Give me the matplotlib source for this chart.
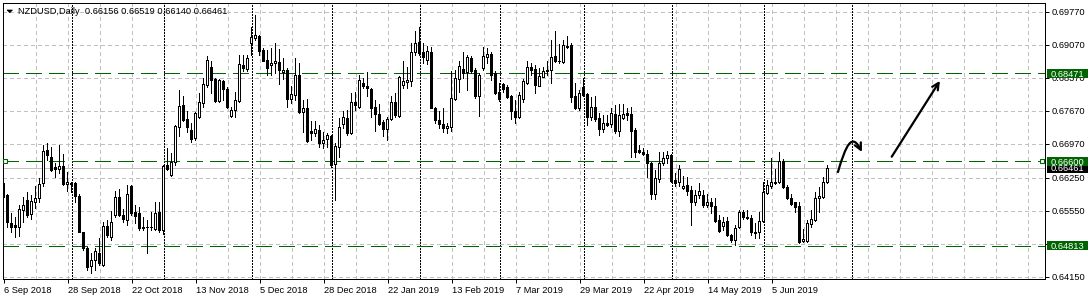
import matplotlib
matplotlib.use('Agg')
import matplotlib.pyplot as plt
import matplotlib.transforms as mtransforms
from matplotlib.patches import Rectangle, Polygon, FancyArrowPatch
from matplotlib.path import Path
import numpy as np
import pandas as pd

# NZDUSD daily candles
opens = [
    0.6615, 0.6589, 0.6530, 0.6525, 0.6521, 0.6556, 0.6579, 0.6548, 0.6575, 0.6582,
    0.6614, 0.6684, 0.6670, 0.6648, 0.6645, 0.6650, 0.6612, 0.6615, 0.6615, 0.6587,
    0.6510, 0.6476, 0.6438, 0.6451, 0.6466, 0.6440, 0.6524, 0.6500, 0.6546, 0.6584,
    0.6546, 0.6536, 0.6608, 0.6553, 0.6550, 0.6521, 0.6521, 0.6520, 0.6516, 0.6553,
    0.6515, 0.6653, 0.6631, 0.6658, 0.6734, 0.6780, 0.6750, 0.6727, 0.6709, 0.6755,
    0.6784, 0.6822, 0.6861, 0.6835, 0.6789, 0.6830, 0.6813, 0.6757, 0.6769, 0.6789,
    0.6865, 0.6856, 0.6912, 0.6922, 0.6927, 0.6897, 0.6876, 0.6864, 0.6868, 0.6870,
    0.6849, 0.6854, 0.6793, 0.6801, 0.6844, 0.6764, 0.6773, 0.6725, 0.6721, 0.6727,
    0.6700, 0.6707, 0.6713, 0.6654, 0.6690, 0.6739, 0.6752, 0.6720, 0.6786, 0.6776,
    0.6826, 0.6820, 0.6814, 0.6775, 0.6761, 0.6743, 0.6728, 0.6751, 0.6787, 0.6757,
    0.6822, 0.6828, 0.6830, 0.6892, 0.6914, 0.6893, 0.6876, 0.6893, 0.6773, 0.6748,
    0.6740, 0.6730, 0.6733, 0.6793, 0.6835, 0.6856, 0.6849, 0.6880, 0.6854, 0.6799,
    0.6859, 0.6881, 0.6888, 0.6847, 0.6808, 0.6825, 0.6817, 0.6798, 0.6767, 0.6754,
    0.6793, 0.6827, 0.6860, 0.6856, 0.6821, 0.6840, 0.6851, 0.6853, 0.6883, 0.6874,
    0.6871, 0.6902, 0.6906, 0.6798, 0.6773, 0.6818, 0.6803, 0.6755, 0.6776, 0.6752,
    0.6728, 0.6741, 0.6740, 0.6761, 0.6725, 0.6753, 0.6762, 0.6761, 0.6727, 0.6684,
    0.6679, 0.6676, 0.6656, 0.6590, 0.6623, 0.6656, 0.6667, 0.6674, 0.6621, 0.6616,
    0.6603, 0.6610, 0.6599, 0.6573, 0.6589, 0.6589, 0.6567, 0.6575, 0.6565, 0.6536,
    0.6523, 0.6534, 0.6504, 0.6493, 0.6521, 0.6552, 0.6543, 0.6541, 0.6509, 0.6510,
    0.6534, 0.6594, 0.6607, 0.6615, 0.6616, 0.6662, 0.6605, 0.6582, 0.6573, 0.6565,
    0.6492, 0.6492, 0.6527, 0.6536, 0.6582, 0.6584, 0.66156]
highs = [
    0.6617, 0.6592, 0.6550, 0.6543, 0.6567, 0.6585, 0.6596, 0.6589, 0.6607, 0.6624,
    0.6695, 0.6699, 0.6691, 0.6656, 0.6695, 0.6676, 0.6638, 0.6617, 0.6617, 0.6592,
    0.6511, 0.6479, 0.6465, 0.6476, 0.6497, 0.6532, 0.6536, 0.6555, 0.6598, 0.6601,
    0.6560, 0.6610, 0.6610, 0.6567, 0.6564, 0.6543, 0.6535, 0.6553, 0.6575, 0.6573,
    0.6653, 0.6688, 0.6677, 0.6737, 0.6812, 0.6798, 0.6766, 0.6741, 0.6765, 0.6805,
    0.6837, 0.6883, 0.6872, 0.6837, 0.6834, 0.6833, 0.6817, 0.6776, 0.6808, 0.6886,
    0.6886, 0.6886, 0.6946, 0.6971, 0.6929, 0.6900, 0.6897, 0.6900, 0.6912, 0.6898,
    0.6879, 0.6858, 0.6819, 0.6879, 0.6868, 0.6791, 0.6792, 0.6745, 0.6745, 0.6738,
    0.6723, 0.6721, 0.6716, 0.6699, 0.6752, 0.6766, 0.6769, 0.6805, 0.6808, 0.6844,
    0.6837, 0.6849, 0.6815, 0.6791, 0.6782, 0.6748, 0.6755, 0.6798, 0.6805, 0.6842,
    0.6872, 0.6861, 0.6912, 0.6936, 0.6946, 0.6912, 0.6904, 0.6902, 0.6776, 0.6766,
    0.6773, 0.6741, 0.6851, 0.6853, 0.6873, 0.6893, 0.6886, 0.6884, 0.6858, 0.6847,
    0.6902, 0.6900, 0.6893, 0.6851, 0.6826, 0.6827, 0.6822, 0.6801, 0.6791, 0.6808,
    0.6834, 0.6872, 0.6868, 0.6865, 0.6858, 0.6861, 0.6872, 0.6917, 0.6937, 0.6909,
    0.6918, 0.6925, 0.6912, 0.6826, 0.6812, 0.6837, 0.6805, 0.6796, 0.6798, 0.6762,
    0.6759, 0.6759, 0.6773, 0.6780, 0.6782, 0.6782, 0.6773, 0.6776, 0.6730, 0.6695,
    0.6688, 0.6684, 0.6658, 0.6642, 0.6681, 0.6681, 0.6683, 0.6676, 0.6635, 0.6653,
    0.6629, 0.6628, 0.6607, 0.6599, 0.6615, 0.6599, 0.6592, 0.6582, 0.6582, 0.6546,
    0.6543, 0.6543, 0.6507, 0.6525, 0.6557, 0.6558, 0.6558, 0.6546, 0.6530, 0.6553,
    0.6617, 0.6621, 0.6667, 0.6643, 0.6681, 0.6665, 0.6610, 0.6592, 0.6575, 0.6575,
    0.6516, 0.6536, 0.6556, 0.6596, 0.6605, 0.6626, 0.66519]
lows = [
    0.6571, 0.6521, 0.6511, 0.6500, 0.6502, 0.6532, 0.6543, 0.6539, 0.6561, 0.6575,
    0.6607, 0.6663, 0.6640, 0.6628, 0.6635, 0.6610, 0.6598, 0.6596, 0.6575, 0.6510,
    0.6473, 0.6430, 0.6424, 0.6430, 0.6440, 0.6438, 0.6499, 0.6493, 0.6543, 0.6544,
    0.6532, 0.6525, 0.6546, 0.6530, 0.6515, 0.6515, 0.6465, 0.6515, 0.6515, 0.6511,
    0.6507, 0.6641, 0.6629, 0.6653, 0.6713, 0.6745, 0.6723, 0.6702, 0.6706, 0.6752,
    0.6776, 0.6818, 0.6805, 0.6787, 0.6787, 0.6791, 0.6773, 0.6754, 0.6755, 0.6787,
    0.6851, 0.6851, 0.6886, 0.6918, 0.6886, 0.6872, 0.6844, 0.6844, 0.6847, 0.6825,
    0.6834, 0.6776, 0.6784, 0.6791, 0.6762, 0.6723, 0.6702, 0.6706, 0.6713, 0.6691,
    0.6688, 0.6691, 0.6649, 0.6578, 0.6670, 0.6730, 0.6716, 0.6718, 0.6769, 0.6773,
    0.6815, 0.6798, 0.6755, 0.6725, 0.6738, 0.6713, 0.6706, 0.6748, 0.6755, 0.6755,
    0.6815, 0.6815, 0.6819, 0.6886, 0.6886, 0.6868, 0.6866, 0.6773, 0.6742, 0.6730,
    0.6723, 0.6720, 0.6725, 0.6791, 0.6808, 0.6837, 0.6812, 0.6847, 0.6794, 0.6757,
    0.6854, 0.6868, 0.6833, 0.6803, 0.6788, 0.6808, 0.6794, 0.6750, 0.6742, 0.6752,
    0.6787, 0.6825, 0.6844, 0.6806, 0.6819, 0.6839, 0.6844, 0.6826, 0.6870, 0.6868,
    0.6868, 0.6900, 0.6787, 0.6771, 0.6769, 0.6798, 0.6738, 0.6747, 0.6745, 0.6716,
    0.6723, 0.6735, 0.6734, 0.6721, 0.6713, 0.6750, 0.6748, 0.6670, 0.6670, 0.6677,
    0.6674, 0.6628, 0.6580, 0.6580, 0.6617, 0.6653, 0.6657, 0.6617, 0.6607, 0.6607,
    0.6601, 0.6589, 0.6525, 0.6568, 0.6582, 0.6564, 0.6564, 0.6550, 0.6532, 0.6511,
    0.6514, 0.6502, 0.6490, 0.6483, 0.6518, 0.6539, 0.6539, 0.6504, 0.6497, 0.6497,
    0.6532, 0.6592, 0.6603, 0.6612, 0.6614, 0.6603, 0.6580, 0.6568, 0.6553, 0.6488,
    0.6490, 0.6490, 0.6522, 0.6534, 0.6553, 0.6582, 0.66140]
closes = [
    0.6585, 0.6532, 0.6521, 0.6520, 0.6559, 0.6567, 0.6547, 0.6576, 0.6583, 0.6612,
    0.6683, 0.6674, 0.6642, 0.6643, 0.6650, 0.6612, 0.6616, 0.6613, 0.6587, 0.6511,
    0.6476, 0.6437, 0.6452, 0.6471, 0.6444, 0.6524, 0.6504, 0.6532, 0.6584, 0.6546,
    0.6539, 0.6592, 0.6550, 0.6544, 0.6518, 0.6519, 0.6520, 0.6522, 0.6551, 0.6515,
    0.6651, 0.6645, 0.6658, 0.6735, 0.6778, 0.6748, 0.6733, 0.6708, 0.6762, 0.6785,
    0.6824, 0.6876, 0.6833, 0.6789, 0.6832, 0.6813, 0.6776, 0.6769, 0.6791, 0.6867,
    0.6858, 0.6879, 0.6924, 0.6928, 0.6895, 0.6874, 0.6858, 0.6868, 0.6873, 0.6854,
    0.6854, 0.6792, 0.6803, 0.6844, 0.6764, 0.6774, 0.6703, 0.6721, 0.6728, 0.6699,
    0.6706, 0.6716, 0.6653, 0.6693, 0.6733, 0.6754, 0.6720, 0.6786, 0.6779, 0.6833,
    0.6819, 0.6815, 0.6774, 0.6761, 0.6740, 0.6729, 0.6750, 0.6786, 0.6759, 0.6839,
    0.6830, 0.6833, 0.6893, 0.6912, 0.6890, 0.6881, 0.6895, 0.6774, 0.6747, 0.6740,
    0.6730, 0.6735, 0.6794, 0.6837, 0.6863, 0.6847, 0.6881, 0.6851, 0.6798, 0.6844,
    0.6883, 0.6888, 0.6844, 0.6806, 0.6793, 0.6813, 0.6796, 0.6766, 0.6754, 0.6801,
    0.6830, 0.6860, 0.6854, 0.6822, 0.6842, 0.6852, 0.6854, 0.6881, 0.6873, 0.6872,
    0.6906, 0.6905, 0.6796, 0.6773, 0.6806, 0.6801, 0.6755, 0.6776, 0.6750, 0.6729,
    0.6742, 0.6738, 0.6762, 0.6725, 0.6759, 0.6760, 0.6759, 0.6725, 0.6681, 0.6681,
    0.6676, 0.6656, 0.6590, 0.6624, 0.6656, 0.6667, 0.6674, 0.6619, 0.6615, 0.6643,
    0.6608, 0.6598, 0.6573, 0.6589, 0.6597, 0.6567, 0.6575, 0.6565, 0.6534, 0.6513,
    0.6532, 0.6504, 0.6493, 0.6518, 0.6553, 0.6543, 0.6541, 0.6511, 0.6511, 0.6534,
    0.6596, 0.6610, 0.6617, 0.6617, 0.6662, 0.6605, 0.6582, 0.6570, 0.6564, 0.6490,
    0.6495, 0.6529, 0.6538, 0.6582, 0.6587, 0.6616, 0.66461]

first_day = '2018-09-06'
holidays = ['2018-12-25', '2019-01-01']
price_ticks = [0.69770, 0.69070, 0.68370, 0.67670, 0.66970, 0.66250, 0.65550, 0.64850, 0.64150]
level_lines = [0.68471, 0.66600, 0.64813]
title = 'NZDUSD,Daily  0.66156 0.66519 0.66140 0.66461'

n = len(closes)
assert len(opens) == len(highs) == len(lows) == n
days = pd.bdate_range(first_day, periods=n + 10)
days = days[~days.isin(pd.to_datetime(holidays))][:n]

plt.rcParams['font.family'] = ['Liberation Sans', 'DejaVu Sans']
FS = 6.7
W, H = 1091, 300
fig = plt.figure(figsize=(W / 100, H / 100), dpi=100)
ax = fig.add_axes([2.5 / W, 1 - 279.3 / H, 1042.8 / W, 276.6 / H])
ax.set_xlim(-0.125, 260.6)
ax.set_ylim(0.64101, 0.69966)
px = 0.72  # one pixel in points

# grid
for p in price_ticks:
    ax.axhline(p, color='#c0c0c0', lw=px, ls=(0, (3, 3)), zorder=0, antialiased=False)
for k in range(1, 33):
    ax.axvline(8 * k + 0.15, color='#c0c0c0', lw=px, ls=(0, (3, 3)), zorder=0,
               antialiased=False)

# month separators
seps = [i for i in range(1, n) if days[i].month != days[i - 1].month]
seps.append(n + 5)  # next month, drawn in the empty future area
for s in seps:
    ax.axvline(s + 0.15, color='black', lw=px, ls=(0, (2, 2)), zorder=1, antialiased=False)

# candles
o, h, l, c = map(np.array, (opens, highs, lows, closes))
idx = np.arange(n)
ax.vlines(idx, l, h, color='black', lw=px, zorder=3, antialiased=False)
body_lo = np.minimum(o, c)
body_h = np.maximum(np.abs(c - o), 0.00002)
faces = np.where(c >= o, 'white', 'black')
ax.bar(idx, body_h, bottom=body_lo, width=0.5, color=faces, edgecolor='black',
       linewidth=px, zorder=4, antialiased=False)

# levels and bid line
ax.axhline(closes[-1], color='#c0c0c0', lw=px, zorder=2, antialiased=False)
for p in level_lines:
    ax.axhline(p, color='#006400', lw=px, ls=(0, (16, 8)), zorder=2, antialiased=False)
ax.plot([0.5, 259.8], [level_lines[1]] * 2, 's', ms=3.2, mfc='white', mec='#006400',
        mew=0.8, zorder=5, clip_on=False)

# hand drawn arrows
curve = Path([(208.75, 0.66375), (210.75, 0.66949), (212.25, 0.67225), (214.75, 0.66800)],
             [Path.MOVETO, Path.CURVE4, Path.CURVE4, Path.CURVE4])
ax.add_patch(FancyArrowPatch(path=curve, arrowstyle='->', mutation_scale=12, lw=1.6,
                             color='black', zorder=6))
ax.annotate('', xy=(234.25, 0.68309), xytext=(222.2, 0.66700),
            arrowprops=dict(arrowstyle='->', lw=1.6, color='black', mutation_scale=12,
                            shrinkA=0, shrinkB=0), zorder=6)

# axes look
for sp in ax.spines.values():
    sp.set_color('black')
    sp.set_linewidth(px)
    sp.set_antialiased(False)
ax.yaxis.tick_right()
ax.set_yticks(price_ticks)
ax.set_yticklabels([f'{p:.5f}' for p in price_ticks])
ax.tick_params(axis='y', length=3, width=px, pad=1.5, labelsize=FS, colors='black')
lab_idx = idx[::16]
ax.set_xticks(lab_idx + 0.15)
ax.set_xticklabels([f'{days[i].day} {days[i]:%b %Y}' for i in lab_idx], ha='left')
ax.tick_params(axis='x', length=3, width=px, pad=1.5, labelsize=FS, colors='black')

# price tags on the right scale
blend = mtransforms.blended_transform_factory(fig.transFigure, ax.transData)
half = 4.6 * (0.69966 - 0.64101) / 276.6
tags = [(closes[-1], 'black')] + [(p, '#006400') for p in level_lines]
for p, col in tags:
    ax.add_patch(Rectangle((1046.5 / W, p - half), 41.5 / W, 2 * half, transform=blend,
                           facecolor=col, edgecolor='none', clip_on=False, zorder=7))
    ax.text(1050.5 / W, p, f'{p:.5f}', transform=blend, color='white', fontsize=FS,
            va='center_baseline', ha='left', clip_on=False, zorder=8)

# header
fig.text(18 / W, 1 - 11 / H, title, fontsize=FS, va='center', ha='left', color='black')
fig.patches.append(Polygon([(7 / W, 1 - 10 / H), (12.5 / W, 1 - 10 / H), (9.75 / W, 1 - 12.7 / H)],
                           closed=True, transform=fig.transFigure, facecolor='black',
                           edgecolor='black', lw=0.5))

fig.savefig('out.png', dpi=100, facecolor='white')
